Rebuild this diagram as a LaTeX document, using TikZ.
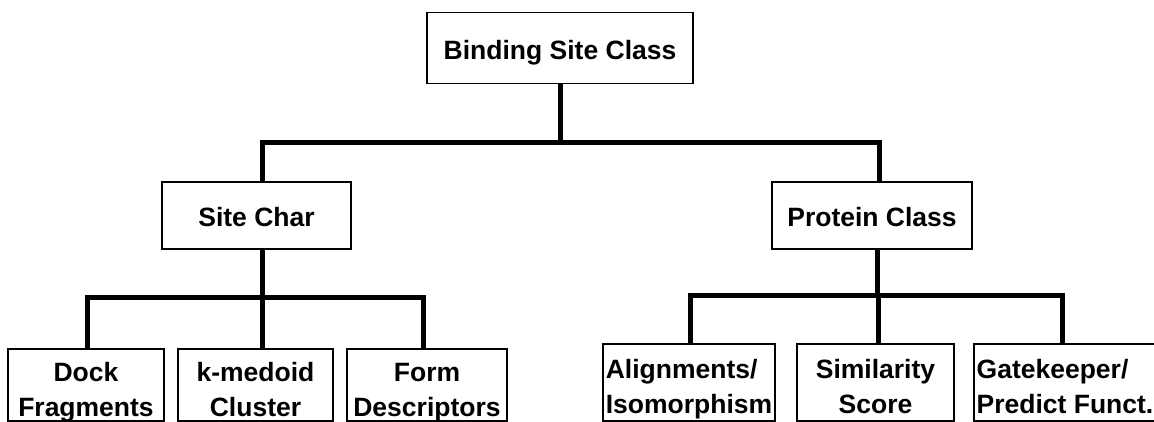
\documentclass[tikz,border=0pt]{standalone}
\usepackage{fontspec}
\setmainfont{Liberation Sans}
\newcommand\bxline[1]{\rule[-1pt]{0pt}{30pt}\smash{#1}}
\tikzset{
  box/.style={draw=black, line width=1.5pt, fill=white, rectangle, inner sep=0pt, outer sep=0pt,
    font={\bfseries\fontsize{26.5}{35}\selectfont}},
  onebox/.style={box, align=center, text height=23pt, text depth=0pt},
  twobox/.style={box, align=center},
  twoboxl/.style={box, align=left},
  conn/.style={line width=5pt, draw=black, line join=miter}
}
\begin{document}
\begin{tikzpicture}[x=1pt,y=1pt]
\path[use as bounding box] (0,0) rectangle (1154,422);
\clip (0,0) rectangle (1154,422);
\fill[white] (0,0) rectangle (1154,422);
% level 0
\node[onebox, minimum width=266pt, minimum height=71pt] (top) at (560,374.2) {Binding Site Class};
% level 1
\node[onebox, minimum width=189pt, minimum height=67pt] (site) at (256.5,206.5) {Site Char};
\node[onebox, minimum width=200pt, minimum height=67pt] (prot) at (872,206.5) {Protein Class};
% level 2 left
\node[twobox, minimum width=156pt, minimum height=72pt] (dock) at (86,37) {\bxline{Dock}\\\bxline{Fragments}};
\node[twobox, minimum width=155pt, minimum height=72pt] (kmed) at (255.5,37) {\bxline{k-medoid}\\\bxline{Cluster}};
\node[twobox, minimum width=160pt, minimum height=72pt] (form) at (427,37) {\bxline{Form}\\\bxline{Descriptors}};
% level 2 right
\node[twoboxl, minimum width=172pt, minimum height=77pt] (alig) at (689,39.5) {\bxline{Alignments/}\\\bxline{Isomorphism}};
\node[twobox, minimum width=157pt, minimum height=77pt] (sim) at (875.5,39.5) {\bxline{Similarity}\\\bxline{Score}};
\node[twoboxl, minimum width=182pt, minimum height=77pt] (gate) at (1065,39.5) {\bxline{Gatekeeper/}\\\bxline{Predict Funct.}};
% junction coordinates
\coordinate (j0) at (560,279);
\coordinate (xL) at (262,0);
\coordinate (xR) at (879,0);
\coordinate (j1) at (262,124);
\coordinate (x1a) at (87,0);
\coordinate (x1c) at (423,0);
\coordinate (j2) at (877,126);
\coordinate (x2a) at (690,0);
\coordinate (x2b) at (878,0);
\coordinate (x2c) at (1062,0);
% connectors
\draw[conn] (top.south) -- (j0);
\draw[conn] (site.north -| xL) |- (j0) -| (prot.north -| xR);
\draw[conn] (site.south -| j1) -- (j1);
\draw[conn] (dock.north -| x1a) |- (j1) -| (form.north -| x1c);
\draw[conn] (j1) -- (kmed.north -| j1);
\draw[conn] (prot.south -| j2) -- (j2);
\draw[conn] (alig.north -| x2a) |- (j2) -| (gate.north -| x2c);
\draw[conn] (j2 -| x2b) -- (sim.north -| x2b);
\end{tikzpicture}
\end{document}
